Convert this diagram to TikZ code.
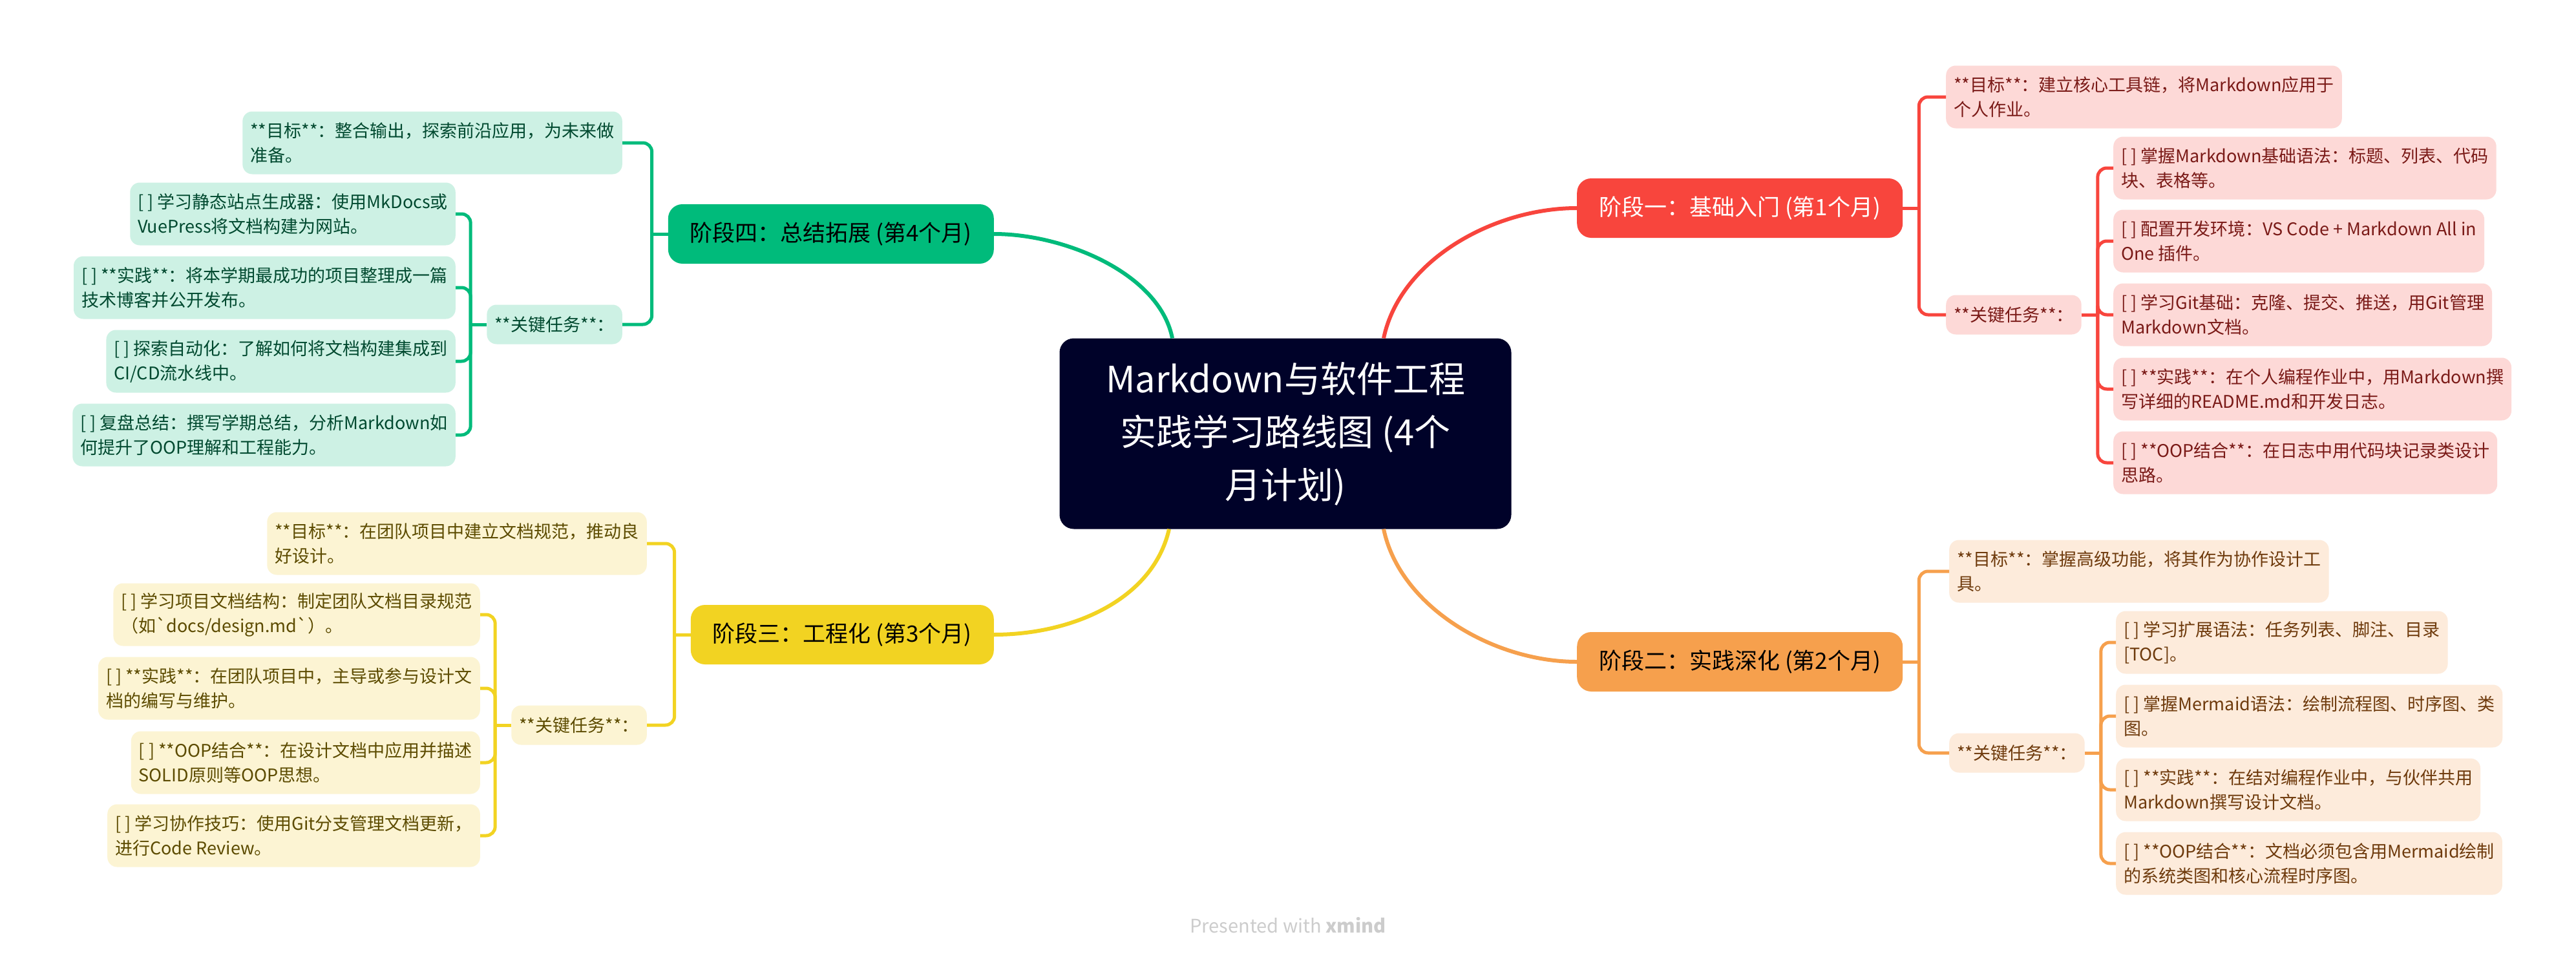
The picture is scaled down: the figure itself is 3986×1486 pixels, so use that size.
\documentclass[tikz,border=0pt]{standalone}
\usepackage{fontspec}
\setmainfont{Noto Sans CJK SC}
\definecolor{hubBg}{HTML}{000229}
\definecolor{redMain}{HTML}{F8453D}\definecolor{redSoft}{HTML}{FDD9D7}\definecolor{redInk}{HTML}{7A1A17}
\definecolor{orangeMain}{HTML}{F6A04D}\definecolor{orangeSoft}{HTML}{FDEBDB}\definecolor{orangeInk}{HTML}{6E3A0C}
\definecolor{yellowMain}{HTML}{F2D322}\definecolor{yellowSoft}{HTML}{FCF4D3}\definecolor{yellowInk}{HTML}{5C4B00}
\definecolor{greenMain}{HTML}{00BB7B}\definecolor{greenSoft}{HTML}{CDF1E4}\definecolor{greenInk}{HTML}{00492F}

\begin{document}
\begin{tikzpicture}[x=1pt,y=-1pt,
  hub/.style={fill=hubBg,text=white,rounded corners=22pt,minimum width=699pt,minimum height=295pt,align=center,font=\fontsize{56}{82}\selectfont},
  phase/.style={rounded corners=22pt,minimum height=92pt,inner xsep=34pt,font=\fontsize{35}{40}\selectfont},
  leaf/.style={rounded corners=15pt,inner xsep=12pt,inner ysep=14pt,minimum height=97pt,align=left,font=\fontsize{27}{38}\selectfont},
  keybox/.style={leaf,minimum height=61pt},
  spoke/.style={line width=6pt},
  link/.style={line width=5pt,rounded corners=14pt}]
\fill[white] (0,0) rectangle (3986,1486);
\useasboundingbox (0,0) rectangle (3986,1486);

\node[hub] (hub) at (1989,671) {Markdown与软件工程\\实践学习路线图 (4个\\月计划)};

\node[phase,fill=redMain,text=white,anchor=west] (p1) at (2440,322) {阶段一：基础入门 (第1个月)};
\node[phase,fill=orangeMain,anchor=west] (p2) at (2440,1024) {阶段二：实践深化 (第2个月)};
\node[phase,fill=yellowMain,anchor=east] (p3) at (1538,982) {阶段三：工程化 (第3个月)};
\node[phase,fill=greenMain,anchor=east] (p4) at (1538,362) {阶段四：总结拓展 (第4个月)};

\draw[spoke,draw=redMain] ([xshift=152pt]hub.north) .. controls +(25,-120) and +(-130,0) .. (p1.west);
\draw[spoke,draw=orangeMain] ([xshift=152pt]hub.south) .. controls +(25,120) and +(-130,0) .. (p2.west);
\draw[spoke,draw=yellowMain] ([xshift=-180pt]hub.south) .. controls +(-25,110) and +(120,0) .. (p3.east);
\draw[spoke,draw=greenMain] ([xshift=-175pt]hub.north) .. controls +(-20,-100) and +(110,0) .. (p4.east);

% stage one
\begin{scope}[every node/.append style={fill=redSoft,text=redInk,anchor=west}]
\node[leaf] (g1) at (3011,150) {**目标**：建立核心工具链，将Markdown应用于\\个人作业。};
\node[keybox] (k1) at (3011,487) {**关键任务**：};
\node[leaf] (t11) at (3270,260) {[ ] 掌握Markdown基础语法：标题、列表、代码\\块、表格等。};
\node[leaf] (t12) at (3270,373) {[ ] 配置开发环境：VS Code + Markdown All in\\One 插件。};
\node[leaf] (t13) at (3270,487) {[ ] 学习Git基础：克隆、提交、推送，用Git管理\\Markdown文档。};
\node[leaf] (t14) at (3270,602) {[ ] **实践**：在个人编程作业中，用Markdown撰\\写详细的README.md和开发日志。};
\node[leaf] (t15) at (3270,716) {[ ] **OOP结合**：在日志中用代码块记录类设计\\思路。};
\end{scope}
\coordinate (j1) at ([xshift=25pt]p1.east);
\coordinate (jk1) at ([xshift=25pt]k1.east);
\draw[link,draw=redMain] (p1.east) -- (j1);
\foreach \n in {g1,k1} \draw[link,draw=redMain] (j1) |- (\n.west);
\draw[link,draw=redMain] (k1.east) -- (jk1);
\foreach \n in {t11,t12,t13,t14,t15} \draw[link,draw=redMain] (jk1) |- (\n.west);

% stage two
\begin{scope}[every node/.append style={fill=orangeSoft,text=orangeInk,anchor=west}]
\node[leaf] (g2) at (3016,884) {**目标**：掌握高级功能，将其作为协作设计工\\具。};
\node[keybox] (k2) at (3016,1165) {**关键任务**：};
\node[leaf] (t21) at (3274,994) {[ ] 学习扩展语法：任务列表、脚注、目录\\{}[TOC]。};
\node[leaf] (t22) at (3274,1108) {[ ] 掌握Mermaid语法：绘制流程图、时序图、类\\图。};
\node[leaf] (t23) at (3274,1222) {[ ] **实践**：在结对编程作业中，与伙伴共用\\Markdown撰写设计文档。};
\node[leaf] (t24) at (3274,1336) {[ ] **OOP结合**：文档必须包含用Mermaid绘制\\的系统类图和核心流程时序图。};
\end{scope}
\coordinate (j2) at ([xshift=25pt]p2.east);
\coordinate (jk2) at ([xshift=25pt]k2.east);
\draw[link,draw=orangeMain] (p2.east) -- (j2);
\foreach \n in {g2,k2} \draw[link,draw=orangeMain] (j2) |- (\n.west);
\draw[link,draw=orangeMain] (k2.east) -- (jk2);
\foreach \n in {t21,t22,t23,t24} \draw[link,draw=orangeMain] (jk2) |- (\n.west);

% stage three
\begin{scope}[every node/.append style={fill=yellowSoft,text=yellowInk,anchor=east}]
\node[leaf] (g3) at (1001,841) {**目标**：在团队项目中建立文档规范，推动良\\好设计。};
\node[keybox] (k3) at (1001,1122) {**关键任务**：};
\node[leaf] (t31) at (743,951) {[ ] 学习项目文档结构：制定团队文档目录规范\\（如\textasciigrave docs/design.md\textasciigrave）。};
\node[leaf] (t32) at (743,1065) {[ ] **实践**：在团队项目中，主导或参与设计文\\档的编写与维护。};
\node[leaf] (t33) at (743,1180) {[ ] **OOP结合**：在设计文档中应用并描述\\SOLID原则等OOP思想。};
\node[leaf] (t34) at (743,1293) {[ ] 学习协作技巧：使用Git分支管理文档更新，\\进行Code Review。};
\end{scope}
\coordinate (j3) at ([xshift=-25pt]p3.west);
\coordinate (jk3) at ([xshift=-25pt]k3.west);
\draw[link,draw=yellowMain] (p3.west) -- (j3);
\foreach \n in {g3,k3} \draw[link,draw=yellowMain] (j3) |- (\n.east);
\draw[link,draw=yellowMain] (k3.west) -- (jk3);
\foreach \n in {t31,t32,t33,t34} \draw[link,draw=yellowMain] (jk3) |- (\n.east);

% stage four
\begin{scope}[every node/.append style={fill=greenSoft,text=greenInk,anchor=east}]
\node[leaf] (g4) at (963,221) {**目标**：整合输出，探索前沿应用，为未来做\\准备。};
\node[keybox] (k4) at (963,502) {**关键任务**：};
\node[leaf] (t41) at (705,331) {[ ] 学习静态站点生成器：使用MkDocs或\\VuePress将文档构建为网站。};
\node[leaf] (t42) at (705,445) {[ ] **实践**：将本学期最成功的项目整理成一篇\\技术博客并公开发布。};
\node[leaf] (t43) at (705,559) {[ ] 探索自动化：了解如何将文档构建集成到\\CI/CD流水线中。};
\node[leaf] (t44) at (705,673) {[ ] 复盘总结：撰写学期总结，分析Markdown如\\何提升了OOP理解和工程能力。};
\end{scope}
\coordinate (j4) at ([xshift=-25pt]p4.west);
\coordinate (jk4) at ([xshift=-25pt]k4.west);
\draw[link,draw=greenMain] (p4.west) -- (j4);
\foreach \n in {g4,k4} \draw[link,draw=greenMain] (j4) |- (\n.east);
\draw[link,draw=greenMain] (k4.west) -- (jk4);
\foreach \n in {t41,t42,t43,t44} \draw[link,draw=greenMain] (jk4) |- (\n.east);

\node[text=black!20,font=\fontsize{29}{34}\selectfont] (credit) at (1993,1432) {Presented with \textbf{xmind}};
\end{tikzpicture}
\end{document}
